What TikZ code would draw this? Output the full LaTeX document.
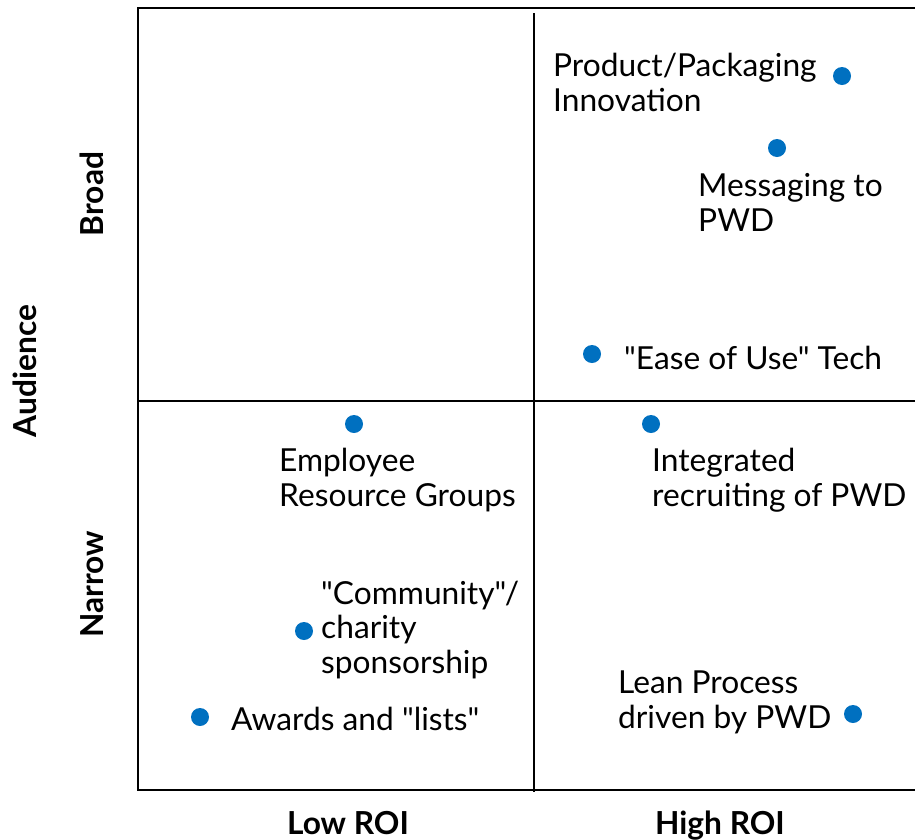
\documentclass[tikz,border=0pt]{standalone}
\usepackage{fontspec}
\setmainfont{Lato}[Ligatures=TeXOff]
\usetikzlibrary{positioning}
\definecolor{dotblue}{HTML}{0070C0}

\tikzset{
    pt/.style={circle, fill=dotblue, inner sep=0pt, minimum size=18pt},
    % base of a multi-line label = baseline of its last line
    lbl/.style={inner sep=0pt, align=left, anchor=base west, font=\fontsize{31.7}{34.3}\selectfont},
    axis/.style={inner sep=0pt, font=\bfseries\fontsize{31.7}{34}\selectfont}
}

\begin{document}
\begin{tikzpicture}[x=1pt, y=-1pt]
    \useasboundingbox (0,0) rectangle (915,839);

    % frame and quadrant lines
    \coordinate (tl) at (138,8);
    \coordinate (tr) at (915,8);
    \coordinate (bl) at (138,790);
    \coordinate (br) at (915,790);
    \draw[line width=2.6pt] (tr) -- (tl) -- (bl) -- (br);
    \coordinate (ml) at (138,401);
    \coordinate (mr) at (915,401);
    \draw[line width=2.4pt] (ml) -- (mr);
    \coordinate (mt) at (534,13);
    \coordinate (mb) at (534,792);
    \draw[line width=1.6pt] (mt) -- (mb);

    % axis labels
    \node[axis, rotate=90] (broad) at (92,194) {Broad};
    \node[axis, rotate=90] (narrow) at (92,584) {Narrow};
    \node[axis, rotate=90] (aud) at (25,371) {Audience};
    \node[axis, anchor=base] (low) at (348,834) {Low ROI};
    \node[axis, anchor=base] (high) at (720,834) {High ROI};

    % points
    \node[pt] (pkg) at (842,76) {};
    \node[pt] (msg) at (777,148) {};
    \node[pt] (ease) at (592,354) {};
    \node[pt] (erg) at (354,424) {};
    \node[pt] (rec) at (651,424) {};
    \node[pt] (comm) at (304,631) {};
    \node[pt] (awd) at (200,717) {};
    \node[pt] (lean) at (853,714) {};

    \node[lbl] (pkgtxt) at (553,111) {Product/Packaging\\Innovation};
    \node[lbl] (msgtxt) at (698,231) {Messaging to\\PWD};
    \node[lbl] (easetxt) at (624,369) {"Ease of Use" Tech};
    \node[lbl] (ergtxt) at (279,506) {Employee\\Resource Groups};
    \node[lbl] (rectxt) at (652,506) {Integrated\\recruiting of PWD};
    \node[lbl] (commtxt) at (321,673) {"Community"/\\charity\\sponsorship};
    \node[lbl] (awdtxt) at (231,730) {Awards and "lists"};
    \node[lbl] (leantxt) at (618,728) {Lean Process\\driven by PWD};
\end{tikzpicture}
\end{document}
